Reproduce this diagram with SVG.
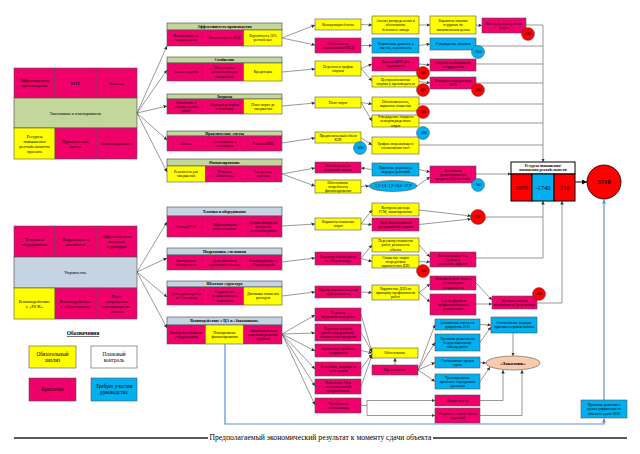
<svg xmlns="http://www.w3.org/2000/svg" width="640" height="454" viewBox="0 0 640 454">
<style>
.p{fill:#F0006A;stroke:#555;stroke-width:.6}
.y{fill:#FFFF00;stroke:#555;stroke-width:.6}
.g{fill:#C3D69B;stroke:#444;stroke-width:.6}
.s{fill:#C6D3E3;stroke:#444;stroke-width:.6}
.b{fill:#00B0F0;stroke:#555;stroke-width:.6}
.w{fill:#fff;stroke:#555;stroke-width:.6}
.rc{fill:#FF0000;stroke:#333;stroke-width:.4}
.bc{fill:#00B0F0;stroke:#333;stroke-width:.4}
text{font-family:"Liberation Serif","Times New Roman",serif;fill:#000;text-anchor:middle}
.t{font-size:3.7px}
.h{font-size:4px;font-weight:bold}
.L{font-size:4.5px}
.n{font-size:4px}
.c line,.c polyline,.c path{stroke:#555;stroke-width:.6;fill:none}
.a{marker-end:url(#ar)}
</style>
<defs>
<marker id="ar" viewBox="0 0 10 10" refX="10" refY="5" markerWidth="3.5" markerHeight="3.5" markerUnits="userSpaceOnUse" orient="auto"><path d="M0,0L10,5L0,10z" fill="#333"/></marker>
<marker id="ab" viewBox="0 0 10 10" refX="10" refY="5" markerWidth="4" markerHeight="4" markerUnits="userSpaceOnUse" orient="auto"><path d="M0,0L10,5L0,10z" fill="#5B8FDB"/></marker>
<marker id="ak" viewBox="0 0 10 10" refX="10" refY="5" markerWidth="5" markerHeight="5" markerUnits="userSpaceOnUse" orient="auto"><path d="M0,0L10,5L0,10z" fill="#000"/></marker>
</defs>

<!-- Left top block -->
<g id="econ">
<rect class="p" x="14" y="68" width="41" height="30"/><text class="L" x="34.5" y="82.1">Эффективность<tspan x="34.5" dy="5">производства</tspan></text>
<rect class="p" x="55" y="68" width="41" height="30"/><text class="L" x="75.5" y="84.6">МТР</text>
<rect class="p" x="96" y="68" width="41" height="30"/><text class="L" x="116.5" y="84.6">Затраты</text>
<rect class="g" x="14" y="98" width="123" height="30"/><text class="L" x="75.5" y="114.6">Экономика и планирование</text>
<rect class="y" x="14" y="128" width="41" height="31"/><text class="L" x="34.5" y="137.6">Ресурсы<tspan x="34.5" dy="5">повышения</tspan><tspan x="34.5" dy="5">рентабельности</tspan><tspan x="34.5" dy="5">проекта</tspan></text>
<rect class="p" x="55" y="128" width="41" height="31"/><text class="L" x="75.5" y="142.6">Практические<tspan x="75.5" dy="5">сметы</tspan></text>
<rect class="p" x="96" y="128" width="41" height="31"/><text class="L" x="116.5" y="145.1">Финансирован-е</text>
</g>

<!-- Left bottom block -->
<g id="upr">
<rect class="p" x="14" y="226" width="41" height="31"/><text class="L" x="34.5" y="240.6">Техника и<tspan x="34.5" dy="5">оборудование</tspan></text>
<rect class="p" x="55" y="226" width="41" height="31"/><text class="L" x="75.5" y="240.6">Подрядчики и<tspan x="75.5" dy="5">смежники</tspan></text>
<rect class="p" x="96" y="226" width="41" height="31"/><text class="L" x="116.5" y="238.1">Эффективность<tspan x="116.5" dy="5">штатной</tspan><tspan x="116.5" dy="5">структуры</tspan></text>
<rect class="s" x="14" y="257" width="123" height="31"/><text class="L" x="75.5" y="274.1">Управление</text>
<rect class="y" x="14" y="288" width="41" height="31"/><text class="L" x="34.5" y="302.6">Взаимодействие<tspan x="34.5" dy="5">с «ПСК»</tspan></text>
<rect class="p" x="55" y="288" width="41" height="31"/><text class="L" x="75.5" y="302.6">Взаимодействие<tspan x="75.5" dy="5">с «Заказчиком»</tspan></text>
<rect class="p" x="96" y="288" width="41" height="31"/><text class="L" x="116.5" y="297.6">План<tspan x="116.5" dy="5">сокращения</tspan><tspan x="116.5" dy="5">отставания по</tspan><tspan x="116.5" dy="5">этапам</tspan></text>
</g>

<!-- Legend -->
<g id="legend">
<text x="83" y="335" style="font-size:5.5px;font-weight:bold;text-decoration:underline">Обозначения</text>
<rect class="y" x="29" y="346" width="47" height="22"/><text x="52.5" y="355.5" style="font-size:5.3px">Обязательный<tspan x="52.5" dy="6">анализ</tspan></text>
<rect class="w" x="91" y="346" width="46" height="22"/><text x="114" y="355.5" style="font-size:5.3px">Плановый<tspan x="114" dy="6">контроль</tspan></text>
<rect class="p" x="29" y="378" width="47" height="23"/><text x="52.5" y="391.4" style="font-size:5.3px">Критично</text>
<rect class="b" x="91" y="378" width="46" height="23"/><text x="114" y="388" style="font-size:5.3px">Требует участия<tspan x="114" dy="6">руководства</tspan></text>
</g>

<!-- Sections column 2 -->
<g id="s1">
<rect class="g" x="167" y="23" width="115" height="7"/><text class="h" x="224.5" y="27.9">Эффективность производства</text>
<rect class="p" x="167" y="30" width="38.3" height="16"/><text class="t" x="186" y="37.2">Калькуляция по<tspan x="186" dy="4.2">направлениям</tspan></text>
<rect class="p" x="205.3" y="30" width="38.3" height="16"/><text class="t" x="224.5" y="39.3">Отклонения от ПСД</text>
<rect class="y" x="243.6" y="30" width="38.4" height="16"/><text class="t" x="263" y="37.2">Вероятность 10%<tspan x="263" dy="4.2">рентабельн.</tspan></text>
</g>
<g id="s2">
<rect class="g" x="167" y="57" width="115" height="6"/><text class="h" x="224.5" y="61.4">Снабжение</text>
<rect class="p" x="167" y="63" width="38.3" height="18"/><text class="t" x="186" y="73.3">Анализ закупок</text>
<rect class="p" x="205.3" y="63" width="38.3" height="18"/><text class="t" x="224.5" y="69.1">Обоснование<tspan x="224.5" dy="4.2">потребность для</tspan><tspan x="224.5" dy="4.2">завершения</tspan></text>
<rect class="y" x="243.6" y="63" width="38.4" height="18"/><text class="t" x="263" y="73.3">Кредиторка</text>
</g>
<g id="s3">
<rect class="g" x="167" y="94" width="115" height="5"/><text class="h" x="224.5" y="97.9">Затраты</text>
<rect class="p" x="167" y="99" width="38.3" height="15"/><text class="t" x="186" y="103.6">Изменения в<tspan x="186" dy="4.2">объему единиц</tspan><tspan x="186" dy="4.2">работ</tspan></text>
<rect class="p" x="205.3" y="99" width="38.3" height="15"/><text class="t" x="224.5" y="105.7">Порядок резервов<tspan x="224.5" dy="4.2">и списания</tspan></text>
<rect class="y" x="243.6" y="99" width="38.4" height="15"/><text class="t" x="263" y="105.7">План затрат до<tspan x="263" dy="4.2">завершения</tspan></text>
</g>
<g id="s4">
<rect class="g" x="167" y="131" width="115" height="5"/><text class="h" x="224.5" y="134.9">Практические сметы</text>
<rect class="p" x="167" y="136" width="38.3" height="15"/><text class="t" x="186" y="144.8">Объем</text>
<rect class="p" x="205.3" y="136" width="38.3" height="15"/><text class="t" x="224.5" y="142.7">Согласование с<tspan x="224.5" dy="4.2">заказчиком</tspan></text>
<rect class="p" x="243.6" y="136" width="38.4" height="15"/><text class="t" x="263" y="144.8">Расчеты ПЗВ</text>
</g>
<g id="s5">
<rect class="g" x="167" y="159" width="115" height="7"/><text class="h" x="224.5" y="163.9">Финансирование</text>
<rect class="y" x="167" y="166" width="38.3" height="16"/><text class="t" x="186" y="173.2">Реальность для<tspan x="186" dy="4.2">завершения</tspan></text>
<rect class="p" x="205.3" y="166" width="38.3" height="16"/><text class="t" x="224.5" y="173.2">Платежи<tspan x="224.5" dy="4.2">«Заказчика»</tspan></text>
<rect class="p" x="243.6" y="166" width="38.4" height="16"/><text class="t" x="263" y="173.2">Экстренные<tspan x="263" dy="4.2">платежи</tspan></text>
</g>
<g id="s6">
<rect class="s" x="167" y="207" width="115" height="9"/><text class="h" x="224.5" y="212.9">Техника и оборудование</text>
<rect class="p" x="167" y="216" width="38.3" height="21"/><text class="t" x="186" y="227.8">Расход ГСМ</text>
<rect class="p" x="205.3" y="216" width="38.3" height="21"/><text class="t" x="224.5" y="225.7">Эффективность<tspan x="224.5" dy="4.2">использования</tspan></text>
<rect class="p" x="243.6" y="216" width="38.4" height="21"/><text class="t" x="263" y="223.6">График вывода из<tspan x="263" dy="4.2">аренды по</tspan><tspan x="263" dy="4.2">окончании работ</tspan></text>
</g>
<g id="s7">
<rect class="s" x="167" y="248" width="115" height="7"/><text class="h" x="224.5" y="252.9">Подрядчики, смежники</text>
<rect class="p" x="167" y="255" width="38.3" height="15"/><text class="t" x="186" y="261.7">Выполнение<tspan x="186" dy="4.2">обязательств</tspan></text>
<rect class="p" x="205.3" y="255" width="38.3" height="15"/><text class="t" x="224.5" y="261.7">Доля участия в<tspan x="224.5" dy="4.2">единичных объемах</tspan></text>
<rect class="p" x="243.6" y="255" width="38.4" height="15"/><text class="t" x="263" y="261.7">Взаимодействие с<tspan x="263" dy="4.2">«Перспектрой»</tspan></text>
</g>
<g id="s8">
<rect class="s" x="167" y="281" width="115" height="6"/><text class="h" x="224.5" y="285.4">Штатная структура</text>
<rect class="p" x="167" y="287" width="38.3" height="18"/><text class="t" x="186" y="295.2">Доля единых работ<tspan x="186" dy="4.2">на 1 человека</tspan></text>
<rect class="p" x="205.3" y="287" width="38.3" height="18"/><text class="t" x="224.5" y="293.1">Сокращение<tspan x="224.5" dy="4.2">неэффективного</tspan><tspan x="224.5" dy="4.2">персонала</tspan></text>
<rect class="y" x="243.6" y="287" width="38.4" height="18"/><text class="t" x="263" y="295.2">Динамика снижения<tspan x="263" dy="4.2">расходов</tspan></text>
</g>
<g id="s9">
<rect class="s" x="167" y="317" width="115" height="8"/><text class="h" x="224.5" y="322.4">Взаимодействие с ЦА и «Заказчиком»</text>
<rect class="p" x="167" y="325" width="38.3" height="19"/><text class="t" x="186" y="333.7">Выбор поставщиков<tspan x="186" dy="4.2">и подрядчиков</tspan></text>
<rect class="y" x="205.3" y="325" width="38.3" height="19"/><text class="t" x="224.5" y="333.7">Планирование<tspan x="224.5" dy="4.2">финансирования</tspan></text>
<rect class="p" x="243.6" y="325" width="38.4" height="19"/><text class="t" x="263" y="331.6">Оперативность в<tspan x="263" dy="4.2">принятии решения</tspan><tspan x="263" dy="4.2">проблем</tspan></text>
</g>

<!-- Connectors -->
<g id="connectors" class="c">
<line class="a" x1="137" y1="113" x2="167" y2="46"/>
<line class="a" x1="137" y1="113" x2="167" y2="70"/>
<line class="a" x1="137" y1="113" x2="167" y2="106"/>
<line class="a" x1="137" y1="113" x2="167" y2="140"/>
<line class="a" x1="137" y1="113" x2="167" y2="172"/>
<line class="a" x1="137" y1="272" x2="167" y2="222"/>
<line class="a" x1="137" y1="272" x2="167" y2="258"/>
<line class="a" x1="137" y1="272" x2="167" y2="297"/>
<line class="a" x1="137" y1="272" x2="167" y2="328"/>

<line class="a" x1="282" y1="38" x2="315" y2="25"/>
<line class="a" x1="282" y1="38" x2="315" y2="45"/>
<line class="a" x1="282" y1="72" x2="315" y2="69"/>
<line class="a" x1="282" y1="106" x2="315" y2="103"/>
<line class="a" x1="282" y1="143" x2="315" y2="138"/>
<line class="a" x1="282" y1="174" x2="315" y2="168"/>
<line class="a" x1="282" y1="174" x2="315" y2="186"/>
<line class="a" x1="282" y1="226" x2="315" y2="224"/>
<line class="a" x1="282" y1="262" x2="315" y2="258"/>
<line class="a" x1="282" y1="296" x2="315" y2="292"/>
<line class="a" x1="282" y1="334" x2="315" y2="315"/>
<line class="a" x1="282" y1="334" x2="315" y2="333"/>
<line class="a" x1="282" y1="334" x2="315" y2="351"/>
<line class="a" x1="282" y1="334" x2="315" y2="369"/>
<line class="a" x1="282" y1="334" x2="315" y2="386"/>
<line class="a" x1="282" y1="334" x2="315" y2="405"/>

<line class="a" x1="361" y1="24.5" x2="372" y2="25"/>
<line class="a" x1="361" y1="45.5" x2="372" y2="45.5"/>
<line class="a" x1="361" y1="68.5" x2="372" y2="64"/>
<line class="a" x1="361" y1="68.5" x2="372" y2="81"/>
<line class="a" x1="361" y1="102.5" x2="372" y2="104"/>
<line class="a" x1="361" y1="102.5" x2="372" y2="121"/>
<line class="a" x1="361" y1="138" x2="372" y2="145"/>
<line class="a" x1="372" y1="169.5" x2="361" y2="168"/>
<line class="a" x1="361" y1="186.5" x2="369" y2="186"/>
<line class="a" x1="361" y1="224" x2="372" y2="210"/>
<line class="a" x1="361" y1="224" x2="372" y2="224.5"/>
<line class="a" x1="361" y1="258.5" x2="372" y2="245"/>
<line class="a" x1="361" y1="258.5" x2="372" y2="261.5"/>
<line class="a" x1="361" y1="292" x2="372" y2="292.5"/>
<line class="a" x1="361" y1="314.5" x2="372" y2="352"/>
<line class="a" x1="361" y1="332.5" x2="372" y2="352"/>
<line class="a" x1="361" y1="350.5" x2="372" y2="353"/>
<line class="a" x1="361" y1="369" x2="372" y2="354"/>
<line class="a" x1="361" y1="386.5" x2="372" y2="355"/>
<line class="a" x1="395" y1="365" x2="395" y2="358"/>
<polyline points="361,405.5 367,405.5"/>
<line x1="367" y1="400.5" x2="367" y2="415.5"/>
<line class="a" x1="367" y1="400.5" x2="435" y2="400.5"/>
<line class="a" x1="367" y1="415.5" x2="435" y2="415.5"/>

<line class="a" x1="419" y1="25" x2="430" y2="25"/>
<line class="a" x1="419" y1="45.5" x2="430" y2="44"/>
<line class="a" x1="419" y1="64" x2="430" y2="65"/>
<line class="a" x1="419" y1="81.5" x2="430" y2="83"/>
<line class="a" x1="419" y1="169.5" x2="430" y2="172"/>
<line class="a" x1="417" y1="186" x2="430" y2="177"/>
<line class="a" x1="419" y1="210" x2="471" y2="216"/>
<line class="a" x1="419" y1="224.5" x2="471" y2="219"/>
<line class="a" x1="419" y1="245" x2="430" y2="257"/>
<line class="a" x1="419" y1="261.5" x2="430" y2="262"/>
<line class="a" x1="419" y1="292.5" x2="430" y2="284"/>
<line class="a" x1="419" y1="292.5" x2="430" y2="302"/>
<line class="a" x1="418" y1="370" x2="435" y2="324.5"/>
<line class="a" x1="418" y1="370" x2="435" y2="342.5"/>
<line class="a" x1="418" y1="370" x2="435" y2="362.5"/>
<line class="a" x1="418" y1="370" x2="435" y2="381.5"/>

<line class="a" x1="476" y1="25" x2="482" y2="25.5"/>
<line class="a" x1="476" y1="283" x2="492" y2="300"/>
<line class="a" x1="476" y1="304" x2="492" y2="304"/>
<line class="a" x1="480" y1="324.5" x2="491" y2="325"/>
<line class="a" x1="480" y1="342.5" x2="491" y2="327"/>
<line class="a" x1="480" y1="362.5" x2="486" y2="363"/>
<line class="a" x1="480" y1="381.5" x2="490" y2="367"/>
<polyline class="a" points="480,400.5 503,400.5 503,370"/>
<polyline class="a" points="480,415.5 522,415.5 522,370"/>
<line class="a" x1="513" y1="333" x2="513" y2="356"/>

<line x1="526" y1="25" x2="543" y2="25"/>
<line x1="476" y1="46" x2="543" y2="46"/>
<line x1="476" y1="64" x2="543" y2="64"/>
<line x1="476" y1="83" x2="543" y2="83"/>
<line x1="419" y1="104" x2="543" y2="104"/>
<line x1="419" y1="123" x2="543" y2="123"/>
<line x1="419" y1="145" x2="543" y2="145"/>
<line class="a" x1="543" y1="25" x2="543" y2="162"/>
<line class="a" x1="476" y1="174" x2="511" y2="174"/>
<polyline class="a" points="486,217 543,217 543,201"/>
<polyline points="476,258 543,258 543,217"/>
<polyline class="a" points="537,303 562,303 562,201"/>
<line x1="575" y1="182" x2="587" y2="182" style="stroke:#000;stroke-width:1;marker-end:url(#ak)"/>

<polyline points="225,344 225,424 604,424 604,418.5" style="stroke:#5B8FDB;stroke-width:1.2;marker-end:url(#ab)"/>
<line x1="604" y1="400" x2="604" y2="199.5" style="stroke:#5B8FDB;stroke-width:1.2;marker-end:url(#ab)"/>
</g>

<!-- Column 3 -->
<g id="c3a"><rect class="y" x="315" y="19" width="46" height="11"/><text class="t" x="338" y="25.8">Калькуляция бетона</text></g>
<g id="c3b"><rect class="p" x="315" y="38" width="46" height="15"/><text class="t" x="338" y="44.7">Обоснование<tspan x="338" dy="4.2">отклонений от ПСД</tspan></text></g>
<g id="c3c"><rect class="y" x="315" y="61" width="46" height="15"/><text class="t" x="338" y="67.7">Перечень и график<tspan x="338" dy="4.2">закупок</tspan></text></g>
<g id="c3d"><rect class="y" x="315" y="97" width="46" height="11"/><text class="t" x="338" y="103.8">План затрат</text></g>
<g id="c3e"><rect class="y" x="315" y="132" width="46" height="11"/><text class="t" x="338" y="136.7">Предполагаемый объем<tspan x="338" dy="4.2">КЗП</tspan></text></g>
<g id="c3f"><rect class="p" x="315" y="162" width="46" height="11"/><text class="t" x="338" y="166.7">Обоснование по<tspan x="338" dy="4.2">покрытию аванса</tspan></text></g>
<g id="c3g"><rect class="y" x="315" y="180" width="46" height="13"/><text class="t" x="338" y="183.6">Обоснование<tspan x="338" dy="4.2">потребность</tspan><tspan x="338" dy="4.2">финансирования</tspan></text></g>
<g id="c3h"><rect class="y" x="315" y="218" width="46" height="12"/><text class="t" x="338" y="223.2">Варианты снижения<tspan x="338" dy="4.2">затрат</tspan></text></g>
<g id="c3i"><rect class="p" x="315" y="252" width="46" height="13"/><text class="t" x="338" y="257.7">Передача объема работ<tspan x="338" dy="4.2">на «Перспектру»</tspan></text></g>
<g id="c3j"><rect class="p" x="315" y="286" width="46" height="12"/><text class="t" x="338" y="291.2">Оценка управляемости и<tspan x="338" dy="4.2">эффективность</tspan></text></g>
<g id="c3k1"><rect class="p" x="315" y="308" width="46" height="13"/><text class="t" x="338" y="313.7">Перечень<tspan x="338" dy="4.2">предъявляемых работ</tspan></text></g>
<g id="c3k2"><rect class="p" x="315" y="324" width="46" height="17"/><text class="t" x="338" y="329.6">Перечень и объем<tspan x="338" dy="4.2">работ оборудования,</tspan><tspan x="338" dy="4.2">технического контроля</tspan></text></g>
<g id="c3k3"><rect class="p" x="315" y="344" width="46" height="13"/><text class="t" x="338" y="349.7">Временные здания и<tspan x="338" dy="4.2">сооружения</tspan></text></g>
<g id="c3k4"><rect class="p" x="315" y="362" width="46" height="14"/><text class="t" x="338" y="368.2">Неустойки, штрафы за<tspan x="338" dy="4.2">срыв сроков</tspan></text></g>
<g id="c3k5"><rect class="p" x="315" y="379" width="46" height="15"/><text class="t" x="338" y="383.6">Изменения ТД и<tspan x="338" dy="4.2">исполнительной</tspan><tspan x="338" dy="4.2">документации</tspan></text></g>
<g id="c3k6"><rect class="p" x="315" y="398" width="46" height="15"/><text class="t" x="338" y="404.7">Проблемы в<tspan x="338" dy="4.2">согласовании</tspan></text></g>

<!-- Column 4 -->
<g id="c4a"><rect class="y" x="372" y="16" width="47" height="18"/><text class="t" x="395.5" y="22.1">Анализ распределения и<tspan x="395.5" dy="4.2">обоснование</tspan><tspan x="395.5" dy="4.2">бетонного завода</tspan></text></g>
<g id="c4b"><rect class="b" x="372" y="38" width="47" height="15"/><text class="t" x="395.5" y="44.7">Подписание допсогл. к<tspan x="395.5" dy="4.2">сметам, вероятность</tspan></text></g>
<g id="c4c1"><rect class="p" x="372" y="57" width="47" height="14"/><text class="t" x="395.5" y="63.2">Закупка МТР для<tspan x="395.5" dy="4.2">содержания</tspan></text></g>
<g id="c4c2"><rect class="y" x="372" y="76" width="47" height="11"/><text class="t" x="395.5" y="80.7">Централизованная<tspan x="395.5" dy="4.2">закупка у производителя</tspan></text></g>
<g id="c4d1"><rect class="y" x="372" y="97" width="47" height="14"/><text class="t" x="395.5" y="103.2">Обоснованность,<tspan x="395.5" dy="4.2">варианты снижения</tspan></text></g>
<g id="c4d2"><rect class="y" x="372" y="115" width="47" height="12"/><text class="t" x="395.5" y="118.1">Утверждение бюджета<tspan x="395.5" dy="4.2">неподтвержденных</tspan><tspan x="395.5" dy="4.2">затрат</tspan></text></g>
<g id="c4e"><rect class="y" x="372" y="137" width="47" height="17"/><text class="t" x="395.5" y="144.7">График опережающего<tspan x="395.5" dy="4.2">согласования смет</tspan></text></g>
<g id="c4f"><rect class="b" x="372" y="163" width="47" height="13"/><text class="t" x="395.5" y="168.7">Принятие решения и<tspan x="395.5" dy="4.2">порядок действий</tspan></text></g>
<g id="c4g"><ellipse class="b" cx="393" cy="186" rx="24" ry="5.5"/><text class="t" x="393" y="187.3">3,3+1,8+1,9+10,8= 17,9</text></g>
<g id="c4h1"><rect class="y" x="372" y="203" width="47" height="13"/><text class="t" x="395.5" y="208.7">Контроль расхода<tspan x="395.5" dy="4.2">ГСМ, лимитирование</tspan></text></g>
<g id="c4h2"><rect class="p" x="372" y="218" width="47" height="13"/><text class="t" x="395.5" y="223.7">План использования<tspan x="395.5" dy="4.2">арендованной техники</tspan></text></g>
<g id="c4i1"><rect class="y" x="372" y="238" width="47" height="14"/><text class="t" x="395.5" y="242.1">Пересмотр стоимости<tspan x="395.5" dy="4.2">работ, реальность</tspan><tspan x="395.5" dy="4.2">объема</tspan></text></g>
<g id="c4i2"><rect class="y" x="372" y="255" width="47" height="13"/><text class="t" x="395.5" y="258.6">Снижение затрат<tspan x="395.5" dy="4.2">посредством</tspan><tspan x="395.5" dy="4.2">привлечения ДЗО</tspan></text></g>
<g id="c4j"><rect class="y" x="372" y="285" width="47" height="15"/><text class="t" x="395.5" y="289.6">Укрупнение ДЗО по<tspan x="395.5" dy="4.2">принципу профильности</tspan><tspan x="395.5" dy="4.2">работ</tspan></text></g>
<g id="c4k1"><rect class="y" x="372" y="348" width="46" height="10"/><text class="t" x="395" y="354.3">Обоснование</text></g>
<g id="c4k2"><rect class="p" x="372" y="365" width="46" height="10"/><text class="t" x="395" y="371.3">Предъявление</text></g>

<!-- Column 5 -->
<g id="c5a"><rect class="y" x="430" y="16" width="46" height="18"/><text class="t" x="453" y="22.1">Варианты закупки<tspan x="453" dy="4.2">нерудных по</tspan><tspan x="453" dy="4.2">минимальным ценам</tspan></text></g>
<g id="c5b"><rect class="b" x="430" y="38" width="46" height="12"/><text class="t" x="453" y="45.3">Утверждение убытков</text></g>
<g id="c5c1"><rect class="p" x="430" y="59" width="46" height="12"/><text class="t" x="453" y="64.2">Закупка необходимого<tspan x="453" dy="4.2">оборудования</tspan></text></g>
<g id="c5c2"><rect class="p" x="430" y="77" width="46" height="12"/><text class="t" x="453" y="82.2">Контроль норм расхода<tspan x="453" dy="4.2">МТР</tspan></text></g>
<g id="c5f"><rect class="p" x="430" y="166" width="46" height="17"/><text class="t" x="453" y="171.6">Источники<tspan x="453" dy="4.2">финансирования,</tspan><tspan x="453" dy="4.2">кредиты (8,8) на 3 мес.</tspan></text></g>
<g id="c5i"><rect class="p" x="430" y="252" width="46" height="15"/><text class="t" x="453" y="256.6">Контроль качества,<tspan x="453" dy="4.2">сроков и</tspan><tspan x="453" dy="4.2">экономич. эффекта</tspan></text></g>
<g id="c5j1"><rect class="p" x="430" y="276" width="46" height="14"/><text class="t" x="453" y="280.1">Основной штат только<tspan x="453" dy="4.2">из ключевых</tspan><tspan x="453" dy="4.2">специалистов</tspan></text></g>
<g id="c5j2"><rect class="p" x="430" y="294" width="46" height="21"/><text class="t" x="453" y="301.6">Замена других в<tspan x="453" dy="4.2">профессиональных</tspan><tspan x="453" dy="4.2">управлениях</tspan></text></g>
<g id="c5l1"><rect class="b" x="435" y="319" width="45" height="11"/><text class="t" x="457.5" y="323.7">Заключение сметы на<tspan x="457.5" dy="4.2">допработы 2015</tspan></text></g>
<g id="c5l2"><rect class="b" x="435" y="334" width="45" height="17"/><text class="t" x="457.5" y="339.6">Принятие решения по<tspan x="457.5" dy="4.2">недоделываемому</tspan><tspan x="457.5" dy="4.2">объему работ</tspan></text></g>
<g id="c5l3"><rect class="b" x="435" y="357" width="45" height="11"/><text class="t" x="457.5" y="361.7">Согласование сроков<tspan x="457.5" dy="4.2">сдачи</tspan></text></g>
<g id="c5l4"><rect class="b" x="435" y="374" width="45" height="15"/><text class="t" x="457.5" y="378.6">Урегулирование<tspan x="457.5" dy="4.2">проблем с надзорными</tspan><tspan x="457.5" dy="4.2">органами</tspan></text></g>
<g id="c5m1"><rect class="p" x="435" y="395" width="45" height="11"/><text class="t" x="457.5" y="401.8">Выкуп земель</text></g>
<g id="c5m2"><rect class="p" x="435" y="408" width="45" height="15"/><text class="t" x="457.5" y="414.7">Решение о начале сноса<tspan x="457.5" dy="4.2">строений</tspan></text></g>

<!-- Column 6 -->
<g id="c6a"><rect class="p" x="482" y="18" width="44" height="15"/><text class="t" x="504" y="24.7">Контроль норм расхода<tspan x="504" dy="4.2">бетона</tspan></text></g>
<g id="c6b"><rect class="p" x="492" y="296" width="45" height="13"/><text class="t" x="514.5" y="301.7">Жесткая система<tspan x="514.5" dy="4.2">мотивации по результатам</tspan></text></g>
<g id="c6c"><rect class="b" x="491" y="317" width="46" height="16"/><text class="t" x="514" y="324.2">Согласование порядка<tspan x="514" dy="4.2">приемки и сроков оплаты</tspan></text></g>
<g id="zakazchik"><ellipse cx="513" cy="363" rx="27" ry="7" fill="#F8CBAD" stroke="#555" stroke-width=".6"/><text x="513" y="364.8" style="font-size:5px;font-weight:bold">«Заказчик»</text></g>
<g id="c6d"><rect class="b" x="581" y="400" width="46" height="18"/><text class="t" x="604" y="406.1">Принятие решения о<tspan x="604" dy="4.2">сроках управления на</tspan><tspan x="604" dy="4.2">объектах сдачи 2016</tspan></text></g>

<!-- Resource box -->
<g id="resources">
<rect x="511" y="162" width="64" height="12" fill="#fff" stroke="#000" stroke-width="1"/>
<text x="543" y="167.2" style="font-size:3.8px;font-weight:bold">Ресурсы повышения/<tspan x="543" dy="4.2">понижения рентабельности</tspan></text>
<rect x="511" y="174" width="21" height="27" fill="#FF0000" stroke="#000" stroke-width="1"/>
<rect x="532" y="174" width="22" height="27" fill="#00B0F0" stroke="#000" stroke-width="1"/>
<rect x="554" y="174" width="21" height="27" fill="#FF0000" stroke="#000" stroke-width="1"/>
<text x="521.5" y="190" style="font-size:6.5px">1970</text>
<text x="543" y="190" style="font-size:6.5px">-1740</text>
<text x="564.5" y="190" style="font-size:6.5px">230</text>
</g>
<g id="total"><circle cx="604" cy="182" r="17" fill="#FF0000" stroke="#000" stroke-width=".8"/><text x="604" y="184.2" style="font-size:6.5px;font-weight:bold">3710</text></g>

<!-- Circles -->
<g id="circles">
<circle class="rc" cx="528" cy="34" r="6.5"/><text class="n" x="528" y="35.4">330</text>
<circle class="bc" cx="478" cy="52" r="6.5"/><text class="n" x="478" y="53.4">-330</text>
<circle class="rc" cx="423" cy="73" r="6.5"/><text class="n" x="423" y="74.4">100</text>
<circle class="rc" cx="423" cy="90" r="6.5"/><text class="n" x="423" y="91.4">400</text>
<circle class="rc" cx="478" cy="90" r="6.5"/><text class="n" x="478" y="91.4">500</text>
<circle class="rc" cx="423" cy="112" r="6.5"/><text class="n" x="423" y="113.4">150</text>
<circle class="bc" cx="423" cy="133" r="6.5"/><text class="n" x="423" y="134.4">-450</text>
<circle class="bc" cx="360" cy="148" r="6.5"/><text class="n" x="360" y="149.4">-560</text>
<circle class="bc" cx="478" cy="185" r="6.5"/><text class="n" x="478" y="186.4">-380</text>
<circle class="rc" cx="478" cy="217" r="7.5"/><text class="n" x="478" y="218.4">120</text>
<circle class="rc" cx="423" cy="271" r="6.5"/><text class="n" x="423" y="272.4">300</text>
<circle class="rc" cx="539" cy="294" r="6.5"/><text class="n" x="539" y="295.4">400</text>
</g>

<!-- Bottom title -->
<g id="result">
<line x1="14" y1="438" x2="208" y2="438" stroke="#222" stroke-width="1.4"/>
<line x1="433" y1="438" x2="627" y2="438" stroke="#222" stroke-width="1.4"/>
<text x="320.5" y="440.3" style="font-size:7.3px" textLength="222" lengthAdjust="spacingAndGlyphs">Предполагаемый экономический результат к моменту сдачи объекта</text>
</g>
</svg>
